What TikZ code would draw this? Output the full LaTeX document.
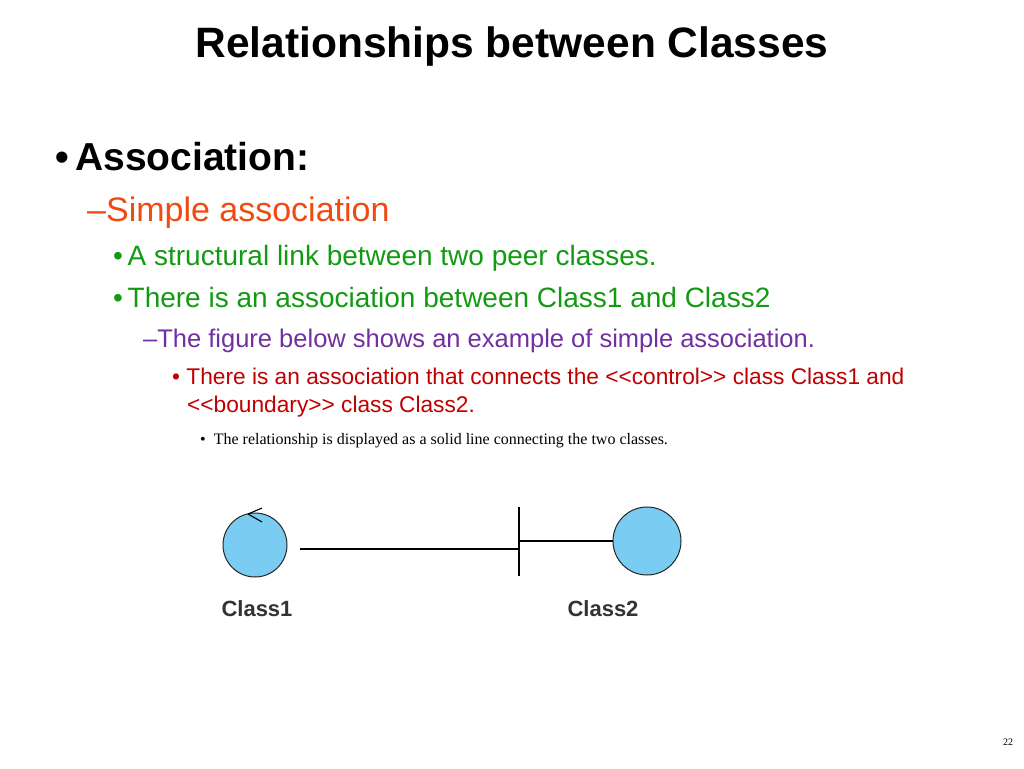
\documentclass[tikz,border=0pt]{standalone}
\usepackage{fontspec}
\setmainfont{Liberation Sans}
\newfontfamily\serifx{Liberation Serif}
\definecolor{orng}{HTML}{F04A10}
\definecolor{grn}{HTML}{139A13}
\definecolor{purp}{HTML}{7030A0}
\definecolor{redd}{HTML}{C00000}
\definecolor{cblue}{HTML}{7ACCF2}
\begin{document}
\begin{tikzpicture}[x=1pt,y=-1pt,
  txt/.style={anchor=base west,inner sep=0pt},
  cls/.style={circle,draw=black!85,line width=1pt,fill=cblue,minimum size=#1,inner sep=0pt},
  lbl/.style={anchor=base,inner sep=0pt,font=\bfseries\fontsize{22}{24}\selectfont,text=black!80}]
\useasboundingbox (0,0) rectangle (1024,768);
\node[anchor=base,inner sep=0pt,font=\bfseries\fontsize{42.5}{46}\selectfont] (title) at (512,58) {Relationships between Classes};
\node[txt,font=\bfseries\fontsize{39}{42}\selectfont] (assoc) at (55,170) {\textbullet\,Association:};
\node[txt,font=\fontsize{34}{38}\selectfont,text=orng] (simple) at (87,221) {–Simple association};
\node[txt,font=\fontsize{28}{32}\selectfont,text=grn] (g1) at (113,265) {\textbullet\,A structural link between two peer classes.};
\node[txt,font=\fontsize{28}{32}\selectfont,text=grn] (g2) at (113,307) {\textbullet\,There is an association between Class1 and Class2};
\node[txt,font=\fontsize{25.5}{28}\selectfont,text=purp] (p1) at (143,347) {–The figure below shows an example of simple association.};
\node[txt,font=\fontsize{22.7}{25}\selectfont,text=redd] (r1) at (172,384) {\textbullet\ There is an association that connects the <{}<control>{}> class Class1 and};
\node[txt,font=\fontsize{22.7}{25}\selectfont,text=redd] (r2) at (187,412) {<{}<boundary>{}> class Class2.};
\node[txt,font=\serifx\fontsize{16}{18}\selectfont] (s1) at (200,444) {\textbullet\ \ The relationship is displayed as a solid line connecting the two classes.};
\node[anchor=base,inner sep=0pt,font=\serifx\fontsize{10}{11}\selectfont] (pg) at (1008,745) {22};
% diagram
\node[cls=64pt] (c1) at (255,545) {};
\node[cls=68pt] (c2) at (647,541) {};
\draw[line width=1.1pt] (248,514) -- (262,508) (248,514) -- (262,522);
\coordinate (bt) at (519,507);
\coordinate (bb) at (519,576);
\coordinate (bm) at (519,549);
\coordinate (bh) at (519,541);
\coordinate (a1) at (300,549);
\draw[line width=1.3pt] (bt) -- (bb);
\draw[line width=1.3pt] (a1) -- (bm);
\draw[line width=1.3pt] (bh) -- (c2.west);
\node[lbl] (l1) at (257,616) {Class1};
\node[lbl] (l2) at (603,616) {Class2};
\end{tikzpicture}
\end{document}
